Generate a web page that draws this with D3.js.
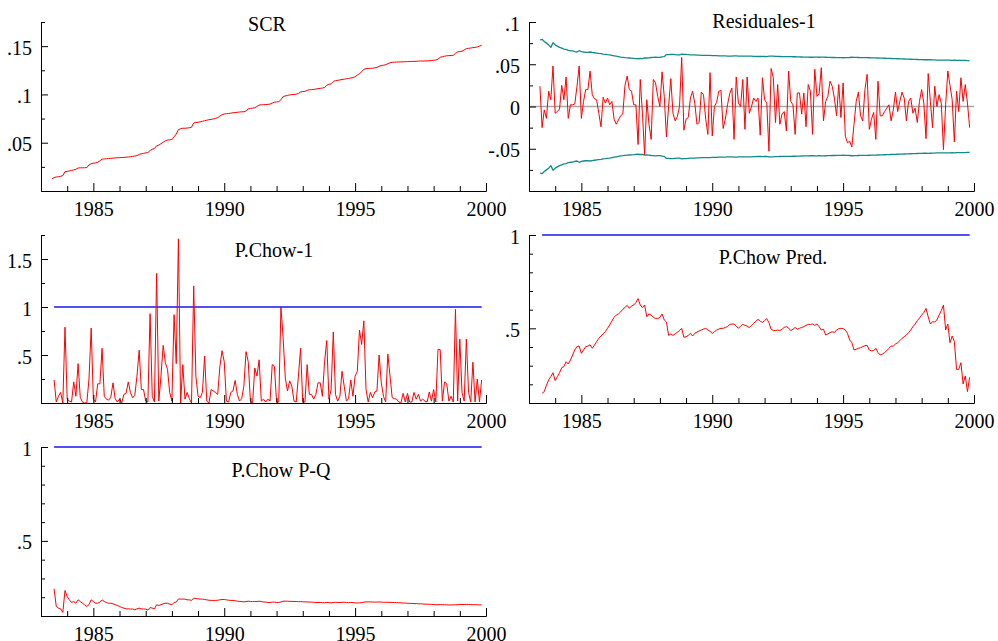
<!DOCTYPE html>
<html>
<head>
<meta charset="utf-8">
<script src="https://cdn.jsdelivr.net/npm/d3@7"></script>
<style>
  body { margin: 0; background: #fff; }
  text { font-family: "Liberation Serif", "Times New Roman", serif; }
</style>
</head>
<body>
<div id="chart"></div>
<script>
// monthly data, first observation 1983:06 ; Chow tests start one month later
const firstYear = 1983;
const firstMonth = 6;
const chowFirstMonth = 7;

const scr = [0.0126,0.0140,0.0145,0.0148,0.0152,0.0160,0.0200,0.0203,0.0208,0.0213,
  0.0218,0.0225,0.0238,0.0240,0.0240,0.0241,0.0243,0.0270,0.0283,0.0288,
  0.0290,0.0298,0.0312,0.0330,0.0332,0.0334,0.0336,0.0338,0.0340,0.0343,
  0.0344,0.0345,0.0347,0.0348,0.0350,0.0352,0.0355,0.0358,0.0362,0.0367,
  0.0378,0.0385,0.0390,0.0395,0.0398,0.0420,0.0432,0.0440,0.0468,0.0475,
  0.0490,0.0505,0.0520,0.0528,0.0530,0.0532,0.0560,0.0590,0.0635,0.0645,
  0.0650,0.0650,0.0652,0.0655,0.0660,0.0705,0.0708,0.0712,0.0716,0.0722,
  0.0728,0.0733,0.0738,0.0742,0.0746,0.0752,0.0760,0.0775,0.0790,0.0798,
  0.0800,0.0803,0.0806,0.0810,0.0812,0.0815,0.0818,0.0820,0.0820,0.0830,
  0.0850,0.0855,0.0858,0.0862,0.0875,0.0890,0.0892,0.0894,0.0895,0.0897,
  0.0900,0.0910,0.0920,0.0922,0.0925,0.0945,0.0978,0.0985,0.0990,0.0995,
  0.0998,0.1000,0.1002,0.1010,0.1025,0.1030,0.1032,0.1042,0.1048,0.1050,
  0.1052,0.1056,0.1060,0.1063,0.1066,0.1072,0.1095,0.1105,0.1110,0.1135,
  0.1143,0.1146,0.1150,0.1155,0.1158,0.1162,0.1165,0.1170,0.1175,0.1183,
  0.1200,0.1215,0.1235,0.1260,0.1267,0.1268,0.1270,0.1272,0.1275,0.1280,
  0.1292,0.1300,0.1302,0.1308,0.1318,0.1328,0.1332,0.1334,0.1335,0.1336,
  0.1337,0.1338,0.1339,0.1340,0.1341,0.1342,0.1342,0.1343,0.1345,0.1346,
  0.1346,0.1347,0.1347,0.1349,0.1352,0.1354,0.1356,0.1366,0.1385,0.1390,
  0.1396,0.1400,0.1402,0.1403,0.1405,0.1425,0.1440,0.1445,0.1448,0.1460,
  0.1474,0.1478,0.1480,0.1485,0.1488,0.1492,0.1500,0.1510];

const residuals = [0.024,-0.025,-0.004,-0.014,0.018,0.008,0.048,-0.008,-0.006,-0.003,
  0.025,0.008,0.035,-0.014,0.002,0.002,0.003,0.024,0.048,-0.014,
  0.006,0.020,0.020,0.042,0.014,0.009,0.008,-0.008,-0.024,0.011,
  0.004,0.010,0.002,0.006,-0.015,-0.021,-0.016,-0.011,-0.009,0.025,
  0.036,0.020,0.018,0.002,0.002,-0.045,0.032,-0.008,-0.057,0.008,
  -0.021,-0.039,0.032,0.028,0.012,0.000,0.041,0.012,-0.036,0.000,
  0.033,-0.008,-0.017,-0.012,0.000,0.058,-0.028,-0.015,-0.013,0.010,
  0.018,0.004,-0.021,-0.019,0.017,0.014,-0.015,-0.033,0.040,-0.035,
  0.000,0.005,0.018,0.019,-0.026,-0.015,0.002,0.015,0.022,-0.039,
  0.035,0.004,0.000,0.032,-0.027,0.035,-0.008,0.000,0.010,0.006,
  0.010,-0.034,0.034,0.008,0.004,-0.053,0.045,0.034,-0.019,0.026,
  -0.021,-0.009,-0.006,-0.029,0.042,0.006,0.002,-0.033,0.016,0.016,
  -0.009,0.016,-0.024,0.026,0.018,-0.033,0.044,0.012,0.015,0.046,
  -0.017,0.006,0.012,0.030,0.024,0.010,-0.011,0.026,-0.013,0.028,
  -0.035,-0.043,-0.041,-0.048,-0.021,0.006,0.017,-0.011,-0.017,0.020,
  0.038,-0.027,-0.015,-0.007,-0.039,0.030,-0.011,-0.011,-0.006,-0.002,
  0.002,-0.017,-0.004,0.017,-0.006,0.006,0.017,0.010,-0.017,0.006,
  0.010,-0.008,-0.002,-0.019,0.006,0.020,0.004,-0.038,0.039,0.006,
  -0.025,0.024,0.000,0.014,0.004,-0.051,0.002,0.042,0.025,0.008,
  -0.042,0.018,-0.006,0.034,0.006,0.026,0.004,-0.025];

// +/- 2 s.e. band around the residuals
const band = [0.0787,0.0795,0.0770,0.0750,0.0730,0.0700,0.0755,0.0730,0.0715,0.0700,
  0.0690,0.0680,0.0675,0.0665,0.0660,0.0658,0.0650,0.0645,0.0660,0.0650,
  0.0645,0.0642,0.0640,0.0645,0.0640,0.0636,0.0632,0.0628,0.0625,0.0620,
  0.0617,0.0613,0.0610,0.0605,0.0600,0.0595,0.0590,0.0585,0.0582,0.0578,
  0.0576,0.0574,0.0572,0.0570,0.0567,0.0565,0.0568,0.0566,0.0575,0.0574,
  0.0575,0.0580,0.0582,0.0584,0.0582,0.0581,0.0588,0.0590,0.0615,0.0614,
  0.0618,0.0616,0.0614,0.0612,0.0610,0.0620,0.0618,0.0616,0.0614,0.0612,
  0.0611,0.0610,0.0608,0.0607,0.0606,0.0605,0.0604,0.0606,0.0605,0.0603,
  0.0602,0.0601,0.0600,0.0600,0.0599,0.0598,0.0597,0.0597,0.0596,0.0598,
  0.0598,0.0597,0.0596,0.0596,0.0596,0.0597,0.0596,0.0595,0.0594,0.0593,
  0.0592,0.0592,0.0593,0.0592,0.0591,0.0595,0.0596,0.0595,0.0594,0.0593,
  0.0592,0.0591,0.0590,0.0590,0.0591,0.0590,0.0589,0.0589,0.0588,0.0587,
  0.0586,0.0585,0.0585,0.0584,0.0583,0.0583,0.0585,0.0584,0.0583,0.0585,
  0.0584,0.0583,0.0582,0.0581,0.0580,0.0580,0.0579,0.0578,0.0578,0.0577,
  0.0578,0.0579,0.0580,0.0583,0.0582,0.0581,0.0580,0.0579,0.0578,0.0578,
  0.0578,0.0577,0.0576,0.0575,0.0575,0.0574,0.0573,0.0572,0.0571,0.0570,
  0.0569,0.0568,0.0567,0.0566,0.0565,0.0564,0.0563,0.0562,0.0561,0.0560,
  0.0559,0.0558,0.0557,0.0556,0.0555,0.0554,0.0553,0.0553,0.0554,0.0553,
  0.0552,0.0551,0.0550,0.0549,0.0548,0.0549,0.0548,0.0548,0.0548,0.0547,
  0.0548,0.0547,0.0546,0.0546,0.0545,0.0545,0.0544,0.0544];

const chow1 = [0.24,0.01,0.07,0.11,0.0,0.79,0.04,0.02,0.01,0.22,
  0.07,0.41,0.06,0.01,0.0,0.0,0.25,0.78,0.04,0.01,
  0.2,0.2,0.57,0.07,0.04,0.03,0.06,0.21,0.045,0.01,
  0.04,0.0,0.09,0.1,0.22,0.11,0.055,0.08,0.28,0.55,
  0.14,0.14,0.02,0.01,0.93,0.07,0.01,1.35,0.02,0.28,
  0.6,0.42,0.35,0.11,0.02,0.92,0.41,1.71,0.0,0.4,
  0.04,0.11,0.045,0.0,1.22,0.28,0.07,0.055,0.11,0.49,
  0.02,0.0,0.14,0.125,0.11,0.09,0.38,0.545,0.43,0.02,
  0.01,0.11,0.125,0.235,0.09,0.02,0.045,0.175,0.535,0.43,
  0.02,0.0,0.365,0.28,0.45,0.02,0.04,0.01,0.04,0.02,
  0.4,0.38,0.01,0.01,1.0,0.675,0.26,0.125,0.23,0.175,
  0.02,0.01,0.28,0.57,0.01,0.01,0.4,0.09,0.09,0.04,
  0.09,0.21,0.21,0.07,0.43,0.65,0.04,0.14,0.74,0.09,
  0.02,0.07,0.33,0.175,0.02,0.045,0.24,0.07,0.28,0.33,
  0.76,0.61,0.855,0.14,0.01,0.11,0.055,0.115,0.125,0.5,
  0.21,0.07,0.01,0.51,0.28,0.055,0.045,0.04,0.01,0.0,
  0.1,0.01,0.1,0.01,0.01,0.11,0.04,0.09,0.02,0.04,
  0.02,0.01,0.115,0.02,0.14,0.01,0.56,0.555,0.02,0.22,
  0.2,0.02,0.07,0.01,0.975,0.02,0.665,0.11,0.02,0.665,
  0.11,0.01,0.425,0.01,0.25,0.01,0.24];

const chowPred = [0.152,0.161,0.196,0.223,0.241,0.262,0.220,0.241,0.262,0.289,
  0.295,0.321,0.309,0.330,0.357,0.384,0.402,0.405,0.366,0.384,
  0.402,0.405,0.412,0.393,0.410,0.429,0.446,0.459,0.470,0.482,
  0.500,0.518,0.539,0.559,0.571,0.577,0.588,0.602,0.612,0.623,
  0.607,0.620,0.625,0.638,0.659,0.625,0.611,0.625,0.562,0.577,
  0.571,0.559,0.552,0.552,0.559,0.577,0.545,0.534,0.462,0.470,
  0.462,0.470,0.479,0.488,0.500,0.452,0.455,0.462,0.473,0.459,
  0.473,0.480,0.486,0.491,0.496,0.500,0.491,0.484,0.473,0.482,
  0.491,0.496,0.500,0.500,0.505,0.509,0.521,0.523,0.523,0.512,
  0.500,0.512,0.521,0.516,0.512,0.504,0.516,0.527,0.538,0.548,
  0.538,0.532,0.541,0.552,0.530,0.495,0.488,0.488,0.491,0.488,
  0.495,0.505,0.509,0.502,0.488,0.495,0.505,0.495,0.500,0.505,
  0.509,0.516,0.521,0.521,0.523,0.516,0.523,0.509,0.491,0.495,
  0.464,0.470,0.477,0.482,0.477,0.491,0.498,0.500,0.498,0.491,
  0.473,0.438,0.423,0.384,0.388,0.393,0.396,0.402,0.407,0.409,
  0.384,0.379,0.380,0.393,0.370,0.357,0.362,0.370,0.380,0.393,
  0.405,0.405,0.416,0.423,0.434,0.446,0.455,0.464,0.477,0.491,
  0.509,0.523,0.541,0.555,0.571,0.584,0.607,0.562,0.523,0.536,
  0.534,0.545,0.571,0.595,0.625,0.491,0.523,0.423,0.459,0.429,
  0.280,0.280,0.316,0.202,0.245,0.161,0.238];

const chowPQ = [0.245,0.151,0.142,0.138,0.119,0.236,0.204,0.186,0.172,0.177,
  0.168,0.186,0.177,0.168,0.160,0.151,0.160,0.186,0.177,0.168,
  0.168,0.174,0.186,0.177,0.172,0.168,0.168,0.165,0.160,0.156,
  0.151,0.145,0.142,0.138,0.138,0.137,0.137,0.133,0.138,0.142,
  0.138,0.137,0.137,0.131,0.145,0.142,0.138,0.160,0.156,0.160,
  0.165,0.168,0.168,0.163,0.160,0.172,0.174,0.191,0.190,0.190,
  0.190,0.186,0.186,0.183,0.195,0.193,0.191,0.190,0.190,0.188,
  0.186,0.184,0.183,0.183,0.183,0.184,0.186,0.188,0.188,0.186,
  0.184,0.183,0.183,0.181,0.179,0.177,0.177,0.175,0.177,0.179,
  0.177,0.177,0.177,0.177,0.179,0.177,0.175,0.174,0.172,0.172,
  0.174,0.174,0.172,0.172,0.175,0.179,0.179,0.179,0.178,0.178,
  0.177,0.177,0.176,0.177,0.176,0.175,0.175,0.174,0.174,0.173,
  0.172,0.172,0.172,0.171,0.171,0.172,0.171,0.170,0.172,0.173,
  0.172,0.172,0.173,0.173,0.172,0.171,0.172,0.171,0.170,0.169,
  0.170,0.171,0.174,0.175,0.175,0.175,0.174,0.174,0.174,0.175,
  0.174,0.173,0.173,0.173,0.173,0.172,0.172,0.171,0.171,0.170,
  0.169,0.169,0.168,0.167,0.167,0.166,0.166,0.165,0.165,0.164,
  0.163,0.163,0.162,0.162,0.161,0.160,0.160,0.161,0.160,0.160,
  0.159,0.159,0.159,0.159,0.160,0.160,0.161,0.161,0.161,0.162,
  0.161,0.161,0.160,0.160,0.160,0.159,0.159];

// tick values
const xMajor = [1985, 1990, 1995, 2000];
const xMinor = [1984, 1986, 1987, 1988, 1989, 1991, 1992, 1993, 1994, 1996, 1997, 1998, 1999];
const scrTicks = [0.05, 0.1, 0.15], scrMinor = [0.025, 0.075, 0.125, 0.175];
const resTicks = [-0.05, 0, 0.05, 0.1], resMinor = [-0.075, -0.025, 0.025, 0.075];
const chow1Ticks = [0.5, 1, 1.5], chow1Minor = [0.25, 0.75, 1.25, 1.75];
const probTicks = [0.5, 1], probMinor = [0.2, 0.3, 0.4, 0.6, 0.7, 0.8, 0.9];

const RED = '#ff0000', TEAL = '#128a8a', BLUE = '#1414ff';

const svg = d3.select('#chart').append('svg')
    .attr('width', 998)
    .attr('height', 641);

const monthTime = (m0, i) => firstYear + (m0 - 1 + i) / 12;
const fmt = v => String(+v.toFixed(3)).replace(/^(-?)0\./, '$1.');

function drawPanel(p) {
    const x = d3.scaleLinear().domain([1983, 2000]).range([p.left, p.right]);
    const y = d3.scaleLinear().domain(p.yDomain).range([p.bottom, p.top]);
    const g = svg.append('g');

    if (p.zero) {
        g.append('line')
            .attr('x1', x(1983)).attr('x2', x(2000))
            .attr('y1', y(0)).attr('y2', y(0))
            .attr('stroke', '#a8a8a8')
            .attr('stroke-width', 1.5);
    }

    // reference line at 1 over the span of the series
    if (p.refOne) {
        const s = p.series[0];
        g.append('line')
            .attr('x1', x(monthTime(s.m0, 0)))
            .attr('x2', x(monthTime(s.m0, s.values.length - 1)))
            .attr('y1', y(1)).attr('y2', y(1))
            .attr('stroke', BLUE)
            .attr('stroke-width', 1.3);
    }

    p.series.forEach(s => {
        const line = d3.line()
            .x((d, i) => x(monthTime(s.m0, i)))
            .y(d => y(d * (s.sign || 1)));
        g.append('path')
            .datum(s.values)
            .attr('fill', 'none')
            .attr('stroke', s.color)
            .attr('stroke-width', s.width || 1)
            .attr('stroke-linejoin', 'round')
            .attr('d', line);
    });

    // x axis: minor and major ticks pointing inward
    g.append('g')
        .attr('transform', `translate(0,${p.bottom})`)
        .call(d3.axisBottom(x).tickValues(xMinor).tickSize(-5).tickSizeOuter(0).tickFormat(''));
    g.append('g')
        .attr('transform', `translate(0,${p.bottom})`)
        .call(d3.axisBottom(x).tickValues(xMajor).tickSize(-8).tickSizeOuter(0).tickPadding(11).tickFormat(d3.format('d')))
        .call(a => a.selectAll('text').attr('font-size', 20).attr('font-family', 'Liberation Serif'));

    // y axis
    g.append('g')
        .attr('transform', `translate(${p.left},0)`)
        .call(d3.axisLeft(y).tickValues(p.yMinor).tickSize(-4).tickSizeOuter(0).tickFormat(''));
    g.append('g')
        .attr('transform', `translate(${p.left},0)`)
        .call(d3.axisLeft(y).tickValues(p.yTicks).tickSize(-7).tickSizeOuter(0).tickPadding(9).tickFormat(fmt))
        .call(a => a.selectAll('text').attr('font-size', 20).attr('font-family', 'Liberation Serif').attr('dy', '0.4em'));

    g.append('text')
        .attr('x', p.titleX)
        .attr('y', p.titleY)
        .attr('text-anchor', 'middle')
        .attr('font-size', 20)
        .text(p.title);
}

drawPanel({
    title: 'SCR', titleX: 267, titleY: 31,
    left: 41, right: 486, top: 22, bottom: 191,
    yDomain: [0, 0.175], yTicks: scrTicks, yMinor: scrMinor,
    series: [{values: scr, m0: firstMonth, color: RED}]
});

drawPanel({
    title: 'Residuales-1', titleX: 764, titleY: 28,
    left: 529, right: 974, top: 22, bottom: 191,
    yDomain: [-0.1, 0.1], yTicks: resTicks, yMinor: resMinor, zero: true,
    series: [
        {values: band, m0: firstMonth, color: TEAL, width: 1.3},
        {values: band, m0: firstMonth, color: TEAL, width: 1.3, sign: -1},
        {values: residuals, m0: firstMonth, color: RED}
    ]
});

drawPanel({
    title: 'P.Chow-1', titleX: 274, titleY: 257,
    left: 41, right: 486, top: 235, bottom: 403,
    yDomain: [0, 1.75], yTicks: chow1Ticks, yMinor: chow1Minor, refOne: true,
    series: [{values: chow1, m0: chowFirstMonth, color: RED}]
});

drawPanel({
    title: 'P.Chow Pred.', titleX: 773, titleY: 264,
    left: 529, right: 974, top: 235, bottom: 403,
    yDomain: [0.1, 1], yTicks: probTicks, yMinor: probMinor, refOne: true,
    series: [{values: chowPred, m0: chowFirstMonth, color: RED}]
});

drawPanel({
    title: 'P.Chow P-Q', titleX: 281, titleY: 477,
    left: 41, right: 486, top: 447, bottom: 616,
    yDomain: [0.1, 1], yTicks: probTicks, yMinor: probMinor, refOne: true,
    series: [{values: chowPQ, m0: chowFirstMonth, color: RED}]
});
</script>
</body>
</html>
